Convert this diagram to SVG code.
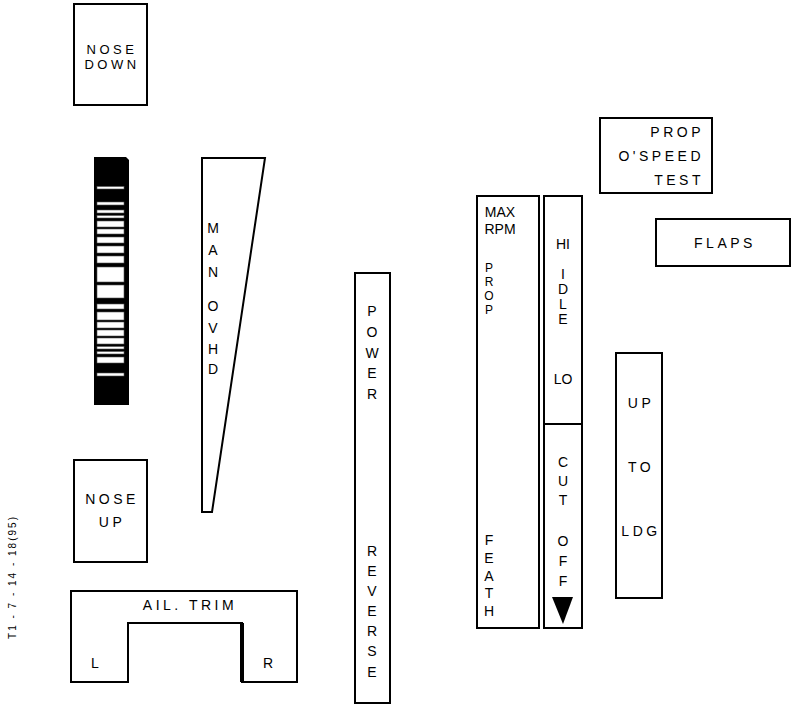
<svg xmlns="http://www.w3.org/2000/svg" width="792" height="705" viewBox="0 0 792 705">
<style>
.box{fill:#fff;stroke:#000;stroke-width:2}
.t{font-family:"Liberation Sans",Arial,sans-serif;font-size:14px;fill:#000;text-anchor:middle;dominant-baseline:central;letter-spacing:3.5px}
.n{letter-spacing:0}
.sm{font-size:12px}
.md{font-size:13px}
.r{text-anchor:end}
.s{fill:#fff;stroke:#555;stroke-width:0.6}
</style>
<rect width="792" height="705" fill="#fff"/>
<g id="nose-down">
<rect class="box" x="74" y="4" width="73" height="101"/>
<text class="t md" x="112" y="49">NOSE</text>
<text class="t md" x="112" y="64">DOWN</text>
</g>
<g id="elevator-trim-scale">
<path d="M94,157 H126 L129,160 V405 H94 Z" fill="#000"/>
<g class="s">
<rect x="97" y="186.5" width="27" height="2.5"/>
<rect x="97" y="202" width="27" height="3"/>
<rect x="97" y="210" width="27" height="3"/>
<rect x="97" y="215.5" width="27" height="2.5"/>
<rect x="97" y="221" width="27" height="6"/>
<rect x="97" y="229" width="27" height="5"/>
<rect x="97" y="237" width="27" height="6"/>
<rect x="97" y="246" width="27" height="7"/>
<rect x="97" y="256" width="27" height="7"/>
<rect x="97" y="267" width="27" height="15"/>
<rect x="97" y="285" width="27" height="13"/>
<rect x="97" y="304" width="27" height="5"/>
<rect x="97" y="312" width="27" height="8"/>
<rect x="97" y="322" width="27" height="6"/>
<rect x="97" y="330" width="27" height="6"/>
<rect x="97" y="338" width="27" height="6"/>
<rect x="97" y="346.5" width="27" height="2.5"/>
<rect x="97" y="351.5" width="27" height="2.5"/>
<rect x="97" y="357" width="27" height="6"/>
<rect x="97" y="373" width="27" height="3"/>
</g>
</g>
<g id="man-ovhd">
<polygon class="box" points="202,158 265,158 212,512 202,512"/>
<text class="t n" x="213" y="228">M</text>
<text class="t n" x="213" y="250">A</text>
<text class="t n" x="213" y="272">N</text>
<text class="t n" x="213" y="306">O</text>
<text class="t n" x="213" y="328">V</text>
<text class="t n" x="213" y="349">H</text>
<text class="t n" x="213" y="369">D</text>
</g>
<g id="nose-up">
<rect class="box" x="74" y="460" width="73" height="102"/>
<text class="t" x="112" y="499">NOSE</text>
<text class="t" x="112" y="522">UP</text>
</g>
<g id="ail-trim">
<path class="box" d="M71,591 H297 V682 H242 V623 H128 V682 H71 Z"/>
<line x1="242" y1="623" x2="242" y2="682" stroke="#000" stroke-width="4"/>
<text class="t" x="190" y="605">AIL. TRIM</text>
<text class="t n" x="95" y="663">L</text>
<text class="t n" x="268" y="663">R</text>
</g>
<g id="power-reverse">
<rect class="box" x="355" y="273" width="35" height="430"/>
<text class="t n" x="372" y="311">P</text>
<text class="t n" x="372" y="332">O</text>
<text class="t n" x="372" y="353">W</text>
<text class="t n" x="372" y="373">E</text>
<text class="t n" x="372" y="394">R</text>
<text class="t n" x="372" y="551">R</text>
<text class="t n" x="372" y="571">E</text>
<text class="t n" x="372" y="591">V</text>
<text class="t n" x="372" y="611">E</text>
<text class="t n" x="372" y="631">R</text>
<text class="t n" x="372" y="651">S</text>
<text class="t n" x="372" y="672">E</text>
</g>
<g id="max-rpm-prop-feath">
<rect class="box" x="477" y="196" width="62" height="432"/>
<text class="t n" x="500" y="212">MAX</text>
<text class="t n" x="500" y="229">RPM</text>
<text class="t n sm" x="489" y="268">P</text>
<text class="t n sm" x="489" y="282">R</text>
<text class="t n sm" x="489" y="296">O</text>
<text class="t n sm" x="489" y="310">P</text>
<text class="t n" x="489" y="540">F</text>
<text class="t n" x="489" y="558">E</text>
<text class="t n" x="489" y="576">A</text>
<text class="t n" x="489" y="593">T</text>
<text class="t n" x="489" y="611">H</text>
</g>
<g id="hi-idle-lo">
<rect class="box" x="544" y="196" width="38" height="228"/>
<text class="t n" x="563" y="244">HI</text>
<text class="t n" x="563" y="274">I</text>
<text class="t n" x="563" y="289">D</text>
<text class="t n" x="563" y="304">L</text>
<text class="t n" x="563" y="319">E</text>
<text class="t n" x="563" y="379">LO</text>
</g>
<g id="cut-off">
<rect class="box" x="544" y="424" width="38" height="204"/>
<text class="t n" x="563" y="462">C</text>
<text class="t n" x="563" y="481">U</text>
<text class="t n" x="563" y="500">T</text>
<text class="t n" x="563" y="541">O</text>
<text class="t n" x="563" y="561">F</text>
<text class="t n" x="563" y="581">F</text>
<polygon points="552,597 573,597 563,624" fill="#000"/>
</g>
<g id="prop-ospeed-test">
<rect class="box" x="600" y="118" width="112" height="75"/>
<text class="t r" x="704" y="132">PROP</text>
<text class="t r" x="704" y="156">O'SPEED</text>
<text class="t r" x="704" y="180">TEST</text>
</g>
<g id="flaps">
<rect class="box" x="656" y="219" width="134" height="47"/>
<text class="t" x="725" y="243">FLAPS</text>
</g>
<g id="up-to-ldg">
<rect class="box" x="616" y="353" width="46" height="245"/>
<text class="t" x="641" y="403">UP</text>
<text class="t" x="641" y="467">TO</text>
<text class="t" x="641" y="531">LDG</text>
</g>
<g id="connectors"></g>
<text class="t n" transform="translate(12,577) rotate(-90)" style="font-size:10px;letter-spacing:2px">T1 - 7 - 14 - 18(95)</text>
</svg>
